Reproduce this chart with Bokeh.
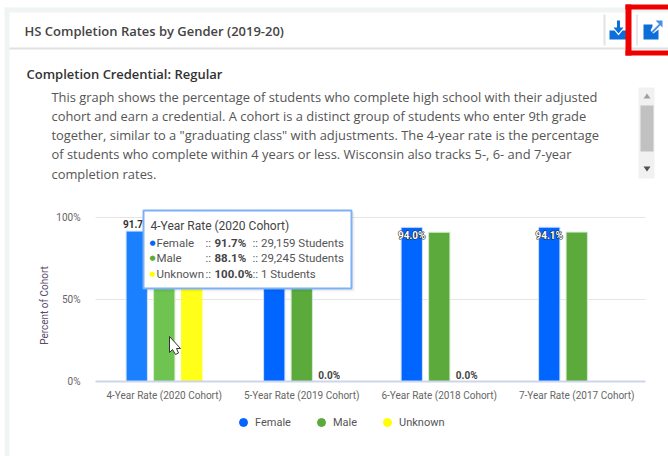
import math
from bokeh.plotting import figure
from bokeh.models import (ColumnDataSource, Range1d, Label, BoxAnnotation, PolyAnnotation,
                          FixedTicker, Legend, LegendItem)
from bokeh.transform import dodge
from bokeh.core.properties import value
from bokeh.embed import file_html
from bokeh.resources import INLINE

categories = ["4-Year Rate (2020 Cohort)", "5-Year Rate (2019 Cohort)",
              "6-Year Rate (2018 Cohort)", "7-Year Rate (2017 Cohort)"]
positions = [1, 2, 3, 4]
female = [91.7, 93.6, 94.0, 94.1]
male = [88.1, 90.4, 91.0, 91.1]
unknown = [100.0, 0.0, 0.0, float("nan")]
female_colors = ["#1a80ff", "#0066ff", "#0066ff", "#0066ff"]
male_colors = ["#6fc451", "#5baa3b", "#5baa3b", "#5baa3b"]
unknown_colors = ["#ffff19", "#ffff00", "#ffff00", "#ffff00"]
y_ticks = [0, 50, 100]
y_tick_labels = {0: "0%", 50: "50%", 100: "100%"}
heading = "HS Completion Rates by Gender (2019-20)"
credential = "Completion Credential: Regular"
y_title = "Percent of Cohort"
description = [
    "This graph shows the percentage of students who complete high school with their adjusted",
    "cohort and earn a credential. A cohort is a distinct group of students who enter 9th grade",
    'together, similar to a "graduating class" with adjustments. The 4-year rate is the percentage',
    "of students who complete within 4 years or less. Wisconsin also tracks 5-, 6- and 7-year",
    "completion rates.",
]
tooltip_title = "4-Year Rate (2020 Cohort)"
tooltip_rows = [("Female", "91.7%", ":: 29,159 Students", "#0066ff"),
                ("Male", "88.1%", ":: 29,245 Students", "#5baa3b"),
                ("Unknown", "100.0%", ":: 1 Students", "#ffff00")]

W, H = 668, 456
# plot area inside the page: x 95..645, y 217 (100%)..381 (0%); frame spans whole canvas
PX_X = 137.5
PX_Y = 1.64
x_rng = Range1d(0.5 - 95 / PX_X, 4.5 + 23 / PX_X)
y_rng = Range1d(-(H - 381) / PX_Y, 381 / PX_Y)

p = figure(width=W, height=H, x_range=x_rng, y_range=y_rng,
           output_backend="svg", toolbar_location=None, tools="",
           min_border=0)
p.outline_line_color = None
p.background_fill_color = "white"
p.border_fill_color = "white"
p.grid.visible = False
p.yaxis.fixed_location = 0.5
p.yaxis.bounds = (0, 100)
p.yaxis.ticker = FixedTicker(ticks=y_ticks)
p.yaxis.major_label_overrides = y_tick_labels
p.yaxis.axis_line_color = None
p.yaxis.major_tick_line_color = None
p.yaxis.minor_tick_line_color = None
p.yaxis.major_label_text_font = "Roboto"
p.yaxis.major_label_text_font_size = "10px"
p.yaxis.major_label_text_color = "#666666"
p.yaxis.major_label_standoff = 9
p.xaxis.fixed_location = 0
p.xaxis.bounds = (0.5, 4.5)
p.xaxis.ticker = FixedTicker(ticks=positions)
p.xaxis.major_label_overrides = dict(zip(positions, categories))
p.xaxis.axis_line_color = "#ccd6eb"
p.xaxis.axis_line_width = 2
p.xaxis.major_tick_line_color = None
p.xaxis.minor_tick_line_color = None
p.xaxis.major_label_text_font = "Roboto"
p.xaxis.major_label_text_font_size = "10px"
p.xaxis.major_label_text_color = "#666666"
p.xaxis.major_label_standoff = 2

# gridlines, bounded to the plot area
p.segment(x0=[0.5] * 2, x1=[4.5] * 2, y0=y_ticks[1:], y1=y_ticks[1:], line_color="#e6e6e6", line_width=1)

src = ColumnDataSource(dict(pos=positions, female=female, male=male, unknown=unknown,
                            fc=female_colors, mc=male_colors, uc=unknown_colors))
OFF = 0.2
BW = 0.155
p.vbar(x=dodge("pos", -OFF), top="female", width=BW, source=src,
       fill_color="fc", line_color="#cfe0ff", line_width=1)
p.vbar(x=dodge("pos", 0), top="male", width=BW, source=src,
       fill_color="mc", line_color="#d5ead0", line_width=1)
p.vbar(x=dodge("pos", OFF), top="unknown", width=BW, source=src,
       fill_color="uc", line_color=None)

def pct(v): return f"{v:.1f}%"
lab = ColumnDataSource(dict(pos=positions[1:], v=female[1:], t=[pct(v) for v in female[1:]]))
p.text(x=dodge("pos", -OFF), y="v", text="t", source=lab, text_font=value("Roboto"),
       text_font_size="10px", text_font_style="bold", text_color="#222222", text_outline_color="#222222",
       text_align="center", text_baseline="top", y_offset=3)
p.text(x=dodge("pos", -OFF), y="v", text="t", source=lab, text_font=value("Roboto"),
       text_font_size="10px", text_font_style="bold", text_color="white",
       text_align="center", text_baseline="top", y_offset=3)
lab_top = ColumnDataSource(dict(pos=positions[:1], v=female[:1], t=[pct(v) for v in female[:1]]))
p.text(x=dodge("pos", -OFF), y="v", text="t", source=lab_top, text_font=value("Roboto"),
       text_font_size="10px", text_font_style="bold", text_color="#333333",
       text_align="center", text_baseline="bottom", y_offset=-1)
lab_u = ColumnDataSource(dict(pos=positions[1:3], v=unknown[1:3], t=[pct(v) for v in unknown[1:3]]))
p.text(x=dodge("pos", OFF), y="v", text="t", source=lab_u, text_font=value("Roboto"),
       text_font_size="10px", text_font_style="bold", text_color="#444444",
       text_align="center", text_baseline="bottom", y_offset=-1)

legend_items = []
for name, col in zip(["Female", "Male", "Unknown"], ["#0066ff", "#5baa3b", "#ffff00"]):
    g = p.scatter(x=[1], y=[float("nan")], size=12, marker="circle", fill_color=col, line_color=col)
    legend_items.append(LegendItem(label=name, renderers=[g]))
leg = Legend(items=legend_items, orientation="horizontal", location=(233, 24), level="overlay",
             background_fill_alpha=0, border_line_color=None, spacing=20, glyph_width=20, glyph_height=20,
             label_standoff=2, margin=0, padding=0, label_text_font="Roboto", label_text_font_size="11px",
             label_text_color="#555555", label_height=20)
p.add_layout(leg, "center")

def box(l, t, r, b, fill, line=None, lw=1, alpha=1.0):
    p.add_layout(BoxAnnotation(left=l, right=r, top=t, bottom=b, level="overlay",
                               left_units="canvas", right_units="canvas", top_units="canvas", bottom_units="canvas",
                               fill_color=fill, fill_alpha=alpha, line_color=line, line_width=lw, line_alpha=1 if line else 0,
                               editable=False))
def poly(px, py, fill, line=None, lw=1):
    p.add_layout(PolyAnnotation(xs=px, ys=py, xs_units="canvas", ys_units="canvas", level="overlay",
                                fill_color=fill, fill_alpha=1, line_color=line, line_width=lw, line_alpha=1 if line else 0))
def text(px, py, s, size="13px", color="#555555", font="Open Sans", style="normal", **kw):
    p.add_layout(Label(x=px, y=py, x_units="canvas", y_units="canvas", text=s, text_font=font, level="overlay",
                       text_font_size=size, text_color=color, text_font_style=style, text_baseline="middle", **kw))

box(4, 7, 668, 12, "#f1f4f4")
box(4, 7, 9, 456, "#f1f4f4")
box(9, 47, 668, 49, "#dfe2e3")
text(44, 305, y_title, "10px", "#5a4a6e", "Roboto", angle=math.pi / 2, text_align="center")
text(24, 30, heading, "13px", "#444444", "Open Sans SemiBold")
text(26, 73, credential, "13px", "#333333", "Open Sans SemiBold")
for i, line in enumerate(description):
    text(51, 96 + i * 19.3, line, "12.9px", "#555555")
box(638, 87, 654, 178, "#f1f1f1")
box(640, 105, 653, 151, "#c1c1c1")
poly([643, 650, 646.5], [98, 98, 93], "#a0a0a0")
poly([643, 650, 646.5], [166, 166, 171], "#505050")
box(603, 14, 605, 45, "#e2e4e4")
box(636, 14, 637, 45, "#d0d0d0")
poly([609, 614, 618, 622, 627, 627, 609], [30, 30, 35, 30, 30, 39, 39], "#0a6fd8")
poly([616.5, 619.5, 619.5, 623, 618, 613, 616.5], [20, 20, 27, 27, 33, 27, 27], "#0a6fd8")
poly([643, 652, 652, 650, 653, 658, 658, 643], [24, 24, 26, 30, 33, 29, 39, 39], "#0a6fd8")
poly([651, 659, 660, 652.5], [31, 23, 24.5, 32.5], "#4a90e0")
poly([655, 662, 662], [20, 20, 27], "#4a90e0")
box(625, 4, 668, 9, "#ee0000")
box(625, 4, 631, 55, "#ee0000")
box(625, 50, 668, 55, "#ee0000")
box(145, 212, 354, 291, "#000000", alpha=0.06)
box(143, 210, 351, 288, "#ffffff", "#7db0f5", 2)
text(150, 225, tooltip_title, "12px", "#444444", "Roboto")
for i, (name, val, rest, col) in enumerate(tooltip_rows):
    y = 242 + i * 15.5
    text(149, y, "\u25cf", "7px", col, "DejaVu Sans")
    text(156, y, name, "11.5px", "#555555", "Roboto")
    text(205, y, "::", "11.5px", "#555555", "Roboto")
    text(214, y, val, "11.5px", "#444444", "Roboto", "bold")
    text(252, y, rest, "11.5px", "#555555", "Roboto")
poly([169, 169, 172, 175, 178, 176, 180], [336, 352, 349, 354, 352.5, 348, 348], "#ffffff", "#333333", 1)

open("out.html", "w").write(file_html(p, INLINE))
